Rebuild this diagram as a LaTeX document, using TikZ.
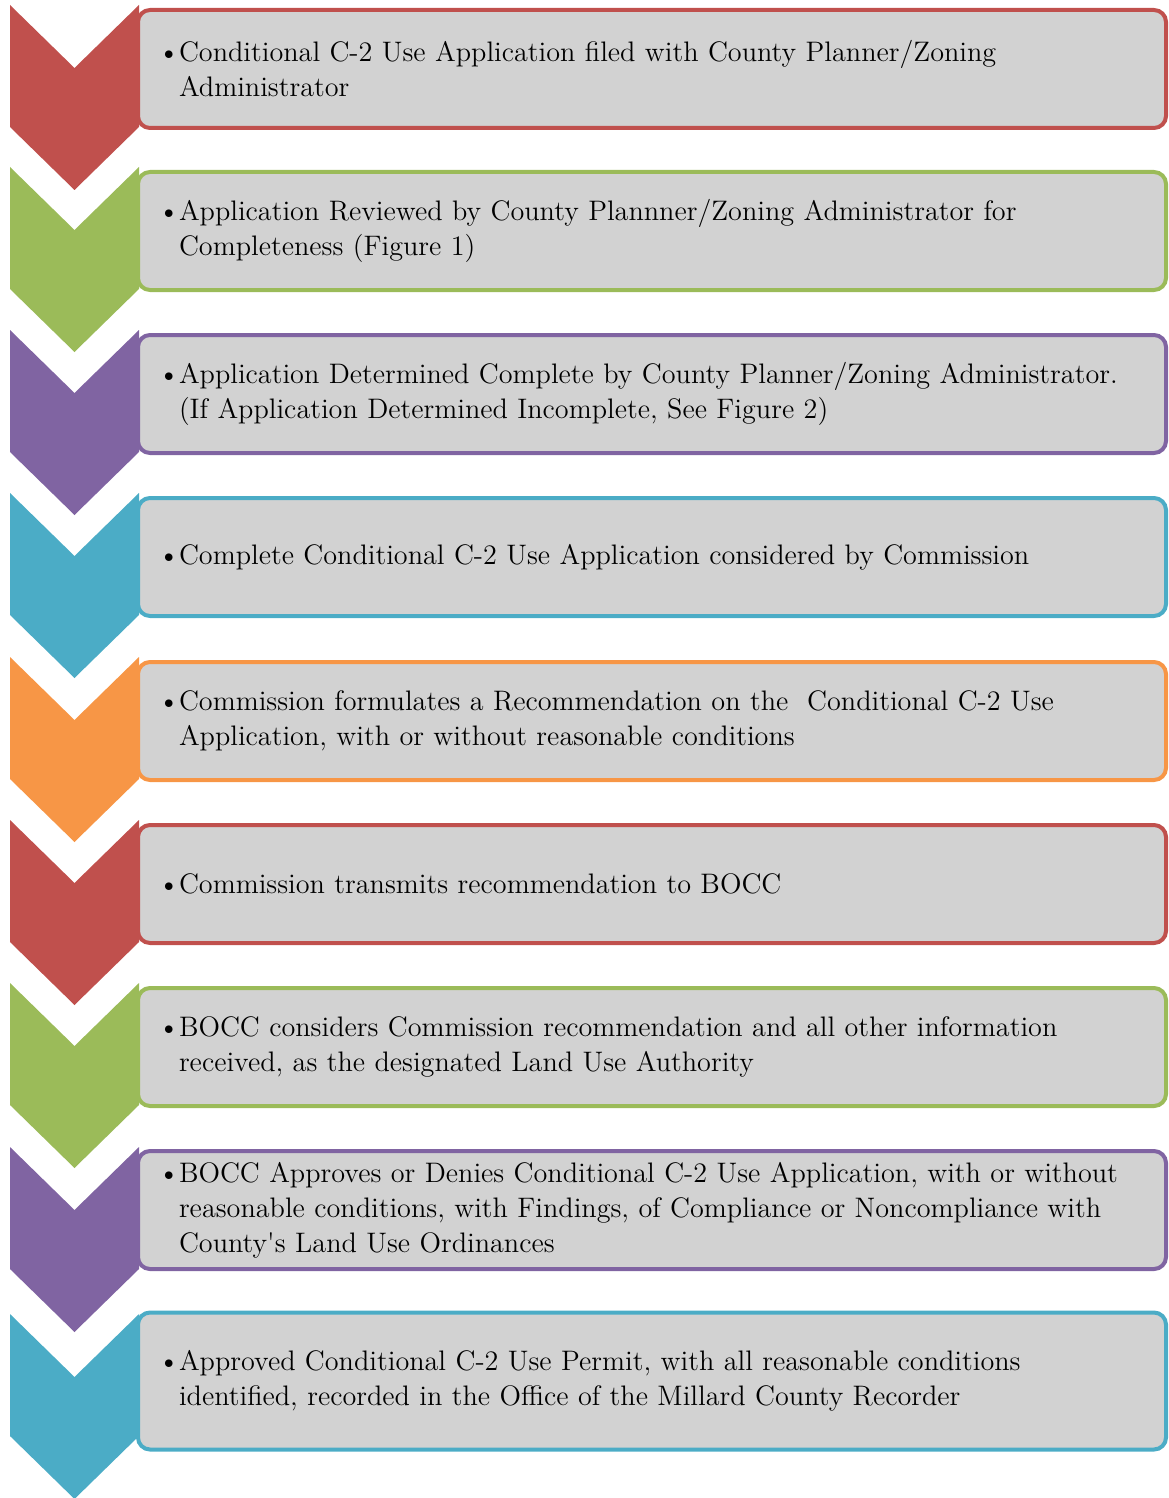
\documentclass[tikz,border=0pt]{standalone}
\usepackage{fontspec}
\usepackage{xcolor}
\definecolor{stepred}{HTML}{C0504D}
\definecolor{stepgreen}{HTML}{9BBB59}
\definecolor{steppurple}{HTML}{8064A2}
\definecolor{stepaqua}{HTML}{4BACC6}
\definecolor{steporange}{HTML}{F79646}
\definecolor{boxgray}{HTML}{D2D2D2}
% bullet and hanging indent for the step texts
\newcommand{\bul}{\makebox[10.5pt][l]{\textbullet}}
\newcommand{\ind}{\hspace*{10.5pt}}

\begin{document}
\begin{tikzpicture}[x=0.5pt, y=-0.5pt,
      stepbox/.style={draw, line width=2pt, fill=boxgray, rounded corners=6pt,
                      minimum width=514pt, minimum height=59pt, text width=494pt,
                      inner xsep=10pt, align=left, font=\fontsize{14.1}{17.5}\selectfont},
      pics/chevron/.style={code={
          \fill[#1] (0,0) -- (64.5,63) -- (129,0) -- (129,122) -- (64.5,185) -- (0,122) -- cycle;}}
    ]
      \useasboundingbox (0,0) rectangle (1168,1498);

      % step boxes
      \node[stepbox, draw=stepred] (s1) at (652,69) {
        \bul Conditional C-2 Use Application filed with County Planner/Zoning\\
        \ind Administrator
      };
      \node[stepbox, draw=stepgreen] (s2) at (652,231) {
        \bul Application Reviewed by County Plannner/Zoning Administrator for\\
        \ind Completeness (Figure 1)
      };
      \node[stepbox, draw=steppurple] (s3) at (652,394) {
        \bul Application Determined Complete by County Planner/Zoning Administrator.\\
        \ind (If Application Determined Incomplete, See Figure 2)
      };
      \node[stepbox, draw=stepaqua] (s4) at (652,557) {
        \bul Complete Conditional C-2 Use Application considered by Commission
      };
      \node[stepbox, draw=steporange] (s5) at (652,721) {
        \bul Commission formulates a Recommendation on the\ \ Conditional C-2 Use\\
        \ind Application, with or without reasonable conditions
      };
      \node[stepbox, draw=stepred] (s6) at (652,884) {
        \bul Commission transmits recommendation to BOCC
      };
      \node[stepbox, draw=stepgreen] (s7) at (652,1047) {
        \bul BOCC considers Commission recommendation and all other information\\
        \ind received, as the designated Land Use Authority
      };
      \node[stepbox, draw=steppurple] (s8) at (652,1210) {
        \bul BOCC Approves or Denies Conditional C-2 Use Application, with or without\\
        \ind reasonable conditions, with Findings, of Compliance or Noncompliance with\\
        \ind County\textquotesingle s Land Use Ordinances
      };
      \node[stepbox, draw=stepaqua, minimum height=68.5pt] (s9) at (652,1381) {
        \bul Approved Conditional C-2 Use Permit, with all reasonable conditions\\
        \ind identified, recorded in the Office of the Millard County Recorder
      };

      % chevrons down the left side
      \pic at (10,5) {chevron=stepred};
      \pic at (10,167) {chevron=stepgreen};
      \pic at (10,330) {chevron=steppurple};
      \pic at (10,493) {chevron=stepaqua};
      \pic at (10,657) {chevron=steporange};
      \pic at (10,820) {chevron=stepred};
      \pic at (10,983) {chevron=stepgreen};
      \pic at (10,1147) {chevron=steppurple};
      \pic at (10,1314) {chevron=stepaqua};
    \end{tikzpicture}
\end{document}
